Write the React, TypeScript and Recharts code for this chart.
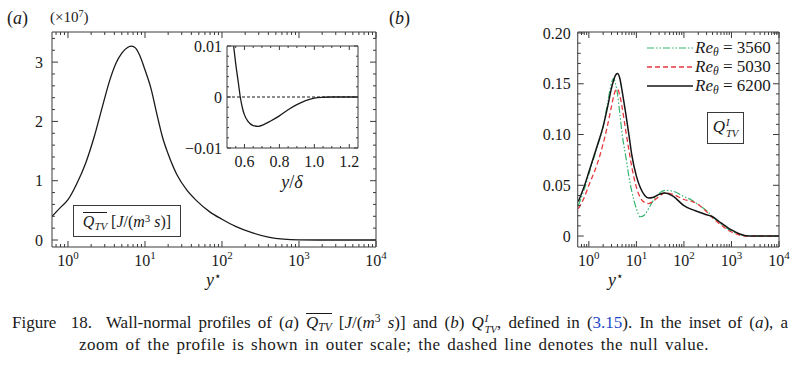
import React from "react";
import { Legend, Line, LineChart, ReferenceLine, XAxis, YAxis } from "recharts";

const SERIF = '"Liberation Serif", "DejaVu Serif", serif';
const INK = "#1a1a1a";
const FRAME = "#3a3a3a";

// panel (a): mean profile, units of 1e7 J/(m^3 s)
const yStarA = [0.6, 0.8, 1, 1.3, 1.7, 2.2, 2.8, 3.5, 4.2, 5, 6, 6.7, 7.5, 8.5, 10, 12, 14, 17, 20, 26, 35, 47, 70, 100, 150, 250, 400, 630, 1000, 2000, 10000];
const qtvMean = [0.38, 0.55, 0.68, 0.95, 1.3, 1.75, 2.25, 2.7, 2.98, 3.15, 3.25, 3.27, 3.24, 3.12, 2.87, 2.55, 2.17, 1.72, 1.45, 1.1, 0.84, 0.66, 0.47, 0.35, 0.23, 0.12, 0.05, 0.015, 0.003, 0, 0];

// inset of (a), outer scale
const yDelta = [0.52, 0.538, 0.55, 0.565, 0.576, 0.59, 0.6, 0.62, 0.65, 0.68, 0.71, 0.75, 0.8, 0.85, 0.9, 0.95, 1.0, 1.05, 1.1, 1.25];
const qtvOuter = [0.016, 0.01, 0.0065, 0.0028, 0, -0.0024, -0.0035, -0.0048, -0.0056, -0.00575, -0.0054, -0.0047, -0.0037, -0.0025, -0.0015, -0.0007, -0.0002, -0.00005, 0, 0];

// panel (b): normalised profiles
const yStarB = [0.6, 0.8, 1, 1.5, 2, 2.5, 3, 3.3, 3.6, 4, 4.5, 5, 6, 7, 8, 10, 12, 15, 18, 22, 30, 40, 60, 100, 150, 200, 300, 400, 600, 1000, 1500, 2000, 3000, 5000, 10000];
const re3560 = [0.03, 0.046, 0.061, 0.088, 0.108, 0.132, 0.151, 0.155, 0.151, 0.14, 0.12, 0.101, 0.078, 0.058, 0.044, 0.027, 0.019, 0.021, 0.027, 0.034, 0.042, 0.045, 0.044, 0.039, 0.035, 0.031, 0.025, 0.019, 0.012, 0.005, 0.0015, 0.0002, 0, 0, 0];
const re5030 = [0.027, 0.038, 0.05, 0.071, 0.091, 0.11, 0.128, 0.137, 0.143, 0.145, 0.138, 0.127, 0.103, 0.084, 0.068, 0.048, 0.038, 0.033, 0.032, 0.034, 0.039, 0.0425, 0.041, 0.036, 0.034, 0.031, 0.024, 0.018, 0.011, 0.004, 0.001, 0, 0, 0, 0];
const re6200 = [0.034, 0.049, 0.063, 0.089, 0.108, 0.128, 0.146, 0.153, 0.158, 0.16, 0.155, 0.143, 0.12, 0.099, 0.08, 0.059, 0.048, 0.04, 0.0375, 0.038, 0.041, 0.0425, 0.039, 0.03, 0.026, 0.024, 0.021, 0.019, 0.013, 0.006, 0.002, 0.0003, 0, 0, 0];

const decades = [1, 10, 100, 1000, 10000];
const decadeMinor = [0.7, 0.8, 0.9, 2, 3, 4, 5, 6, 7, 8, 9, 20, 30, 40, 50, 60, 70, 80, 90, 200, 300, 400, 500, 600, 700, 800, 900, 2000, 3000, 4000, 5000, 6000, 7000, 8000, 9000];
const yTicksA = [0, 1, 2, 3];
const yMinorA = [0.2, 0.4, 0.6, 0.8, 1.2, 1.4, 1.6, 1.8, 2.2, 2.4, 2.6, 2.8, 3.2, 3.4];
const insetX = [0.6, 0.8, 1.0, 1.2];
const insetXMinor = [0.55, 0.65, 0.7, 0.75, 0.85, 0.9, 0.95, 1.05, 1.1, 1.15];
const insetY = [-0.01, 0, 0.01];
const insetYMinor = [-0.008, -0.006, -0.004, -0.002, 0.002, 0.004, 0.006, 0.008];
const yTicksB = [0, 0.05, 0.1, 0.15, 0.2];
const yMinorB = [0.01, 0.02, 0.03, 0.04, 0.06, 0.07, 0.08, 0.09, 0.11, 0.12, 0.13, 0.14, 0.16, 0.17, 0.18, 0.19];

const rowsA = yStarA.map((x, i) => ({ x, q: qtvMean[i] }));
const rowsInset = yDelta.map((x, i) => ({ x, q: qtvOuter[i] }));
const rowsB = yStarB.map((x, i) => ({ x, re3560: re3560[i], re5030: re5030[i], re6200: re6200[i] }));

const seriesB = [
  { key: "re3560", re: "3560", color: "#34b56e", dash: "7 2 1.5 2 1.5 2", width: 1.2 },
  { key: "re5030", re: "5030", color: "#e8383b", dash: "5 3", width: 1.3 },
  { key: "re6200", re: "6200", color: "#141414", dash: undefined, width: 1.5 },
];

type Side = "bottom" | "top" | "left" | "right";
type LabelFn = (value: number, x: number, y: number) => React.ReactNode;

// one tick mark drawn inward, plus its label when it is a major tick
function FrameTick(props: any) {
  const { x, y, payload, side, majors, len, label } = props as { x: number; y: number; payload: { value: number }; side: Side; majors: number[]; len: [number, number]; label?: LabelFn };
  const isMajor = majors.includes(payload.value);
  const l = isMajor ? len[0] : len[1];
  const dx = side === "left" ? l : side === "right" ? -l : 0;
  const dy = side === "bottom" ? -l : side === "top" ? l : 0;
  return (
    <g>
      <line x1={x} y1={y} x2={x + dx} y2={y + dy} stroke={FRAME} strokeWidth={1} />
      {isMajor && label ? label(payload.value, x, y) : null}
    </g>
  );
}

const powerLabel = (gap: number): LabelFn => (v, x, y) => (
  <text x={x} y={y + gap} textAnchor="middle" fontFamily={SERIF} fontSize={16} fill={INK}>
    <tspan dy="0.75em">10</tspan>
    <tspan dy={-7} fontSize={11}>{Math.round(Math.log10(v))}</tspan>
  </text>
);

const bottomLabel = (gap: number, fmt: (v: number) => string): LabelFn => (v, x, y) => (
  <text x={x} y={y + gap} dy="0.75em" textAnchor="middle" fontFamily={SERIF} fontSize={16} fill={INK}>
    {fmt(v)}
  </text>
);

const leftLabel = (gap: number, fmt: (v: number) => string): LabelFn => (v, x, y) => (
  <text x={x - gap} y={y} dy="0.35em" textAnchor="end" fontFamily={SERIF} fontSize={16} fill={INK}>
    {fmt(v)}
  </text>
);

type BoxOpts = {
  id: string;
  xDomain: [number, number];
  yDomain: [number, number];
  log?: boolean;
  xMajor: number[];
  xMinor: number[];
  yMajor: number[];
  yMinor: number[];
  xLabel: LabelFn;
  yLabel: LabelFn;
  len: [number, number];
};

// box frame with inward ticks on all four sides
function boxAxes(p: BoxOpts) {
  const common = { type: "number" as const, allowDataOverflow: true, stroke: FRAME, interval: 0 as const, tickSize: 0, tickMargin: 0, tickLine: false };
  const xs = { ...common, dataKey: "x", domain: p.xDomain, scale: p.log ? ("log" as const) : ("linear" as const), height: 1, ticks: [...p.xMajor, ...p.xMinor] };
  const ys = { ...common, domain: p.yDomain, width: 1, ticks: [...p.yMajor, ...p.yMinor] };
  return [
    <XAxis key="xb" xAxisId={p.id + "x"} {...xs} orientation="bottom" tick={<FrameTick side="bottom" majors={p.xMajor} len={p.len} label={p.xLabel} />} />,
    <XAxis key="xt" xAxisId={p.id + "xt"} {...xs} orientation="top" tick={<FrameTick side="top" majors={p.xMajor} len={p.len} />} />,
    <YAxis key="yl" yAxisId={p.id + "y"} {...ys} orientation="left" tick={<FrameTick side="left" majors={p.yMajor} len={p.len} label={p.yLabel} />} />,
    <YAxis key="yr" yAxisId={p.id + "yr"} {...ys} orientation="right" tick={<FrameTick side="right" majors={p.yMajor} len={p.len} />} />,
  ];
}

function Sup({ children }: { children: React.ReactNode }) {
  return <span style={{ fontSize: "0.68em", verticalAlign: "0.5em", lineHeight: 0 }}>{children}</span>;
}

function Sub({ children }: { children: React.ReactNode }) {
  return <span style={{ fontSize: "0.68em", verticalAlign: "-0.3em", lineHeight: 0 }}>{children}</span>;
}

function QBar() {
  return (
    <span style={{ display: "inline-block", borderTop: "1px solid currentColor", lineHeight: 1.1 }}>
      <i>Q</i>
      <Sub><i>TV</i></Sub>
    </span>
  );
}

function QI() {
  return (
    <span>
      <i>Q</i>
      <span style={{ display: "inline-block", fontSize: "0.62em", lineHeight: 1, verticalAlign: "-0.45em", marginLeft: 1 }}>
        <i>I</i>
        <br />
        <i>TV</i>
      </span>
    </span>
  );
}

function Abs({ left, top, size, center, children }: { left: number; top: number; size: number; center?: boolean; children: React.ReactNode }) {
  return (
    <div style={{ position: "absolute", left, top, fontSize: size, lineHeight: 1, whiteSpace: "nowrap", transform: center ? "translateX(-50%)" : undefined }}>
      {children}
    </div>
  );
}

function ReLegend({ payload }: { payload?: any[] }) {
  const keys = (payload ?? []).map((p) => p.dataKey);
  const items = seriesB.filter((s) => keys.length === 0 || keys.includes(s.key));
  return (
    <div style={{ fontFamily: SERIF, fontSize: 17, color: INK }}>
      {items.map((s) => (
        <div key={s.key} style={{ display: "flex", alignItems: "center", height: 19 }}>
          <svg width={46} height={8}>
            <line x1={0} y1={4} x2={46} y2={4} stroke={s.color} strokeDasharray={s.dash} strokeWidth={s.width} />
          </svg>
          <span style={{ marginLeft: 2, whiteSpace: "nowrap", fontFamily: SERIF }}>
            <i>Re</i>
            <Sub><i>θ</i></Sub> = {s.re}
          </span>
        </div>
      ))}
    </div>
  );
}

export default function App() {
  return (
    <div style={{ position: "absolute", left: 0, top: 0, width: 808, height: 369, background: "#fff", fontFamily: SERIF, color: INK, overflow: "hidden" }}>
      <div style={{ position: "absolute", left: 0, top: 0 }}>
        <LineChart width={400} height={300} data={rowsA} margin={{ top: 31, right: 23, bottom: 52, left: 51 }}>
          {boxAxes({
            id: "a",
            xDomain: [0.62, 10000],
            yDomain: [-0.118, 3.508],
            log: true,
            xMajor: decades,
            xMinor: decadeMinor,
            yMajor: yTicksA,
            yMinor: yMinorA,
            xLabel: powerLabel(7),
            yLabel: leftLabel(9, (v) => String(v)),
            len: [6, 3],
          })}
          <Line xAxisId="ax" yAxisId="ay" dataKey="q" type="monotone" stroke={INK} strokeWidth={1.3} dot={false} isAnimationActive={false} />
        </LineChart>
      </div>

      <div style={{ position: "absolute", left: 170, top: 20 }}>
        <LineChart width={210} height={185} data={rowsInset} margin={{ top: 25, right: 21, bottom: 56, left: 56 }}>
          {boxAxes({
            id: "i",
            xDomain: [0.5, 1.25],
            yDomain: [-0.01, 0.01],
            xMajor: insetX,
            xMinor: insetXMinor,
            yMajor: insetY,
            yMinor: insetYMinor,
            xLabel: bottomLabel(7, (v) => v.toFixed(1)),
            yLabel: leftLabel(5, (v) => (v === 0 ? "0" : v < 0 ? "\u22120.01" : "0.01")),
            len: [4, 2],
          })}
          <ReferenceLine xAxisId="ix" yAxisId="iy" y={0} stroke={INK} strokeDasharray="3 2" strokeWidth={1} />
          <Line xAxisId="ix" yAxisId="iy" dataKey="q" type="monotone" stroke={INK} strokeWidth={1.3} dot={false} isAnimationActive={false} />
        </LineChart>
      </div>

      <div style={{ position: "absolute", left: 400, top: 0 }}>
        <LineChart width={408} height={300} data={rowsB} margin={{ top: 31, right: 28, bottom: 52, left: 53 }}>
          {boxAxes({
            id: "b",
            xDomain: [0.583, 10000],
            yDomain: [-0.0108, 0.201],
            log: true,
            xMajor: decades,
            xMinor: decadeMinor,
            yMajor: yTicksB,
            yMinor: yMinorB,
            xLabel: powerLabel(7),
            yLabel: leftLabel(7, (v) => (v === 0 ? "0" : v.toFixed(2))),
            len: [6, 3],
          })}
          {seriesB.map((s) => (
            <Line key={s.key} xAxisId="bx" yAxisId="by" dataKey={s.key} type="monotone" stroke={s.color} strokeWidth={s.width} strokeDasharray={s.dash} dot={false} isAnimationActive={false} />
          ))}
          <Legend layout="horizontal" verticalAlign="middle" align="left" wrapperStyle={{ left: 247, top: 38, width: "auto" }} content={(props: any) => <ReLegend payload={props.payload} />} />
        </LineChart>
      </div>

      <Abs left={7} top={9} size={18}>(<i>a</i>)</Abs>
      <Abs left={50} top={10} size={15}>(×10<Sup>7</Sup>)</Abs>
      <Abs left={389} top={9} size={18}>(<i>b</i>)</Abs>

      <Abs left={292} top={173} size={18} center>
        <i>y</i>/<i>δ</i>
      </Abs>
      <Abs left={214} top={271} size={18} center>
        <i>y</i>
        <Sup>⋆</Sup>
      </Abs>
      <Abs left={616} top={271} size={18} center>
        <i>y</i>
        <Sup>⋆</Sup>
      </Abs>

      <div style={{ position: "absolute", left: 73, top: 205, width: 108, height: 32, boxSizing: "border-box", border: `1px solid ${FRAME}`, display: "flex", alignItems: "center", justifyContent: "center", fontSize: 16, background: "#fff" }}>
        <span style={{ whiteSpace: "nowrap" }}>
          <QBar /> [<i>J</i>/(<i>m</i>
          <Sup>3</Sup> <i>s</i>)]
        </span>
      </div>
      <div style={{ position: "absolute", left: 707, top: 112, width: 37, height: 32, boxSizing: "border-box", border: `1px solid ${FRAME}`, display: "flex", alignItems: "center", justifyContent: "center", fontSize: 17, background: "#fff" }}>
        <QI />
      </div>

      <div style={{ position: "absolute", left: 12, top: 313, width: 776, fontSize: 17, lineHeight: "17px" }}>
        <div style={{ textAlign: "justify", textAlignLast: "justify" }}>
          Figure&nbsp; 18.&nbsp; Wall-normal profiles of (<i>a</i>) <QBar /> [<i>J</i>/(<i>m</i>
          <Sup>3</Sup> <i>s</i>)] and (<i>b</i>) <QI />, defined in (<span style={{ color: "#2547c8" }}>3.15</span>). In the inset of (<i>a</i>), a
        </div>
        <div style={{ textAlign: "center", letterSpacing: 0.5, wordSpacing: 2, marginLeft: -12, marginTop: 1, whiteSpace: "nowrap" }}>zoom of the profile is shown in outer scale; the dashed line denotes the null value.</div>
      </div>
    </div>
  );
}
